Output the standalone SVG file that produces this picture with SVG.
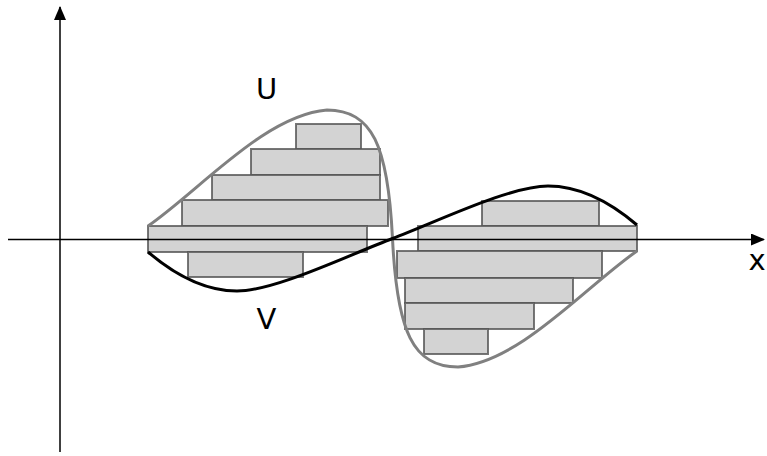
<svg xmlns="http://www.w3.org/2000/svg" width="767" height="456" viewBox="0 0 767 456">
<style>
.bar{fill:#d3d3d3;stroke:#555;stroke-opacity:0.8;stroke-width:2}
.u{fill:none;stroke:#808080;stroke-width:3}
.v{fill:none;stroke:#000;stroke-width:3}
.axis{fill:none;stroke:#000;stroke-width:1.5}
.lbl{font-family:"DejaVu Sans",sans-serif;font-size:29px;fill:#000;text-anchor:middle}
</style>
<defs>
<marker id="arrL" viewBox="0 0 14 12" refX="13" refY="6" markerWidth="14" markerHeight="12" markerUnits="userSpaceOnUse" orient="auto">
<path d="M0,0 L14,6 L0,12 Z" fill="#000"/>
</marker>
</defs>
<g id="bars">
<rect class="bar" x="296" y="124" width="65" height="25"/>
<rect class="bar" x="251" y="149" width="129" height="26"/>
<rect class="bar" x="212" y="175" width="168" height="25"/>
<rect class="bar" x="182" y="200" width="206" height="26"/>
<rect class="bar" x="148" y="226" width="219" height="26"/>
<rect class="bar" x="188" y="252" width="115" height="25"/>
<rect class="bar" x="482" y="201" width="117" height="25"/>
<rect class="bar" x="418" y="226" width="219" height="25"/>
<rect class="bar" x="397" y="251" width="205" height="27"/>
<rect class="bar" x="405" y="278" width="168" height="25"/>
<rect class="bar" x="405" y="303" width="129" height="26"/>
<rect class="bar" x="424" y="329" width="64" height="25"/>
</g>
<g id="curve-U">
<path class="u" d="M148,226 C200,190 265,115 327,110 C372,110 388,145 392.5,238.5 C397,332 413,367 458,367 C520,362 585,287 637,251"/>
</g>
<g id="curve-V">
<path class="v" d="M148,252 C175,275 205,291 237,291 C275,291 347.5,255.5 392.5,238.5 C437.5,221.5 510,186 548,186 C580,186 610,202 637,225"/>
</g>
<g id="axes">
<line class="axis" x1="8" y1="239.5" x2="764" y2="239.5" marker-end="url(#arrL)"/>
<line class="axis" x1="60" y1="452" x2="60" y2="7" marker-end="url(#arrL)"/>
</g>
<g id="labels">
<text class="lbl" x="266.5" y="98.5">U</text>
<text class="lbl" x="266.5" y="329">V</text>
<text class="lbl" x="757" y="270">x</text>
</g>
</svg>
